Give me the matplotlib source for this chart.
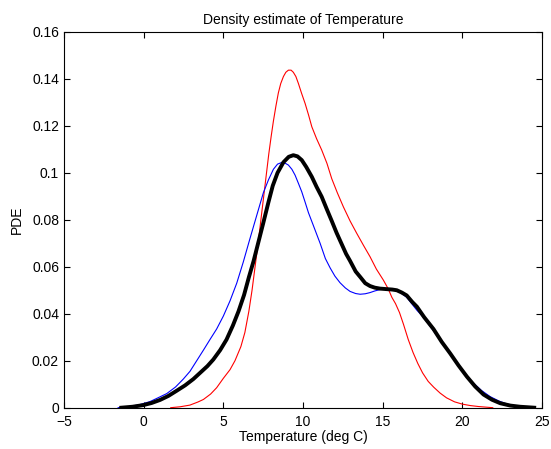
import matplotlib
matplotlib.use('Agg')
import matplotlib.pyplot as plt

# values
red_x = [1.7, 2.3, 2.9, 3.4, 3.75, 4.2, 4.58, 5.0, 5.42, 5.73,
         6.1, 6.35, 6.6, 6.8, 7.0, 7.2, 7.4, 7.55, 7.7, 7.85,
         8.0, 8.14, 8.3, 8.45, 8.6, 8.77, 8.92, 9.08, 9.25, 9.39,
         9.55, 9.71, 9.9, 10.13, 10.35, 10.55, 10.85, 11.17, 11.5, 11.8,
         12.15, 12.53, 12.95, 13.37, 13.8, 14.2, 14.6, 15.04, 15.35, 15.57,
         15.8, 16.05, 16.3, 16.6, 16.9, 17.2, 17.5, 17.85, 18.2, 18.6,
         19.0, 19.5, 20.0, 20.5, 21.0, 21.9]
red_y = [0.0, 0.0004, 0.0011, 0.0024, 0.0035, 0.0058, 0.0085, 0.0125, 0.0162, 0.020,
         0.026, 0.032, 0.041, 0.050, 0.0605, 0.071, 0.0825, 0.091, 0.0995, 0.108,
         0.1155, 0.122, 0.1285, 0.134, 0.138, 0.141, 0.1428, 0.1437, 0.1437, 0.1428,
         0.141, 0.138, 0.134, 0.1295, 0.1245, 0.1196, 0.1145, 0.1097, 0.104, 0.0975,
         0.0915, 0.0855, 0.0795, 0.0742, 0.069, 0.0643, 0.059, 0.0543, 0.0505, 0.047,
         0.0443, 0.0405, 0.0355, 0.029, 0.0235, 0.0188, 0.0148, 0.0112, 0.0087, 0.0062,
         0.0042, 0.0025, 0.0015, 0.0009, 0.0005, 0.0]

blue_x = [-1.6, -1.0, -0.3, 0.4, 0.9, 1.45, 2.0, 2.49, 2.91, 3.33,
          3.75, 4.16, 4.58, 5.0, 5.42, 5.84, 6.25, 6.67, 7.1, 7.51,
          7.83, 8.14, 8.4, 8.66, 8.9, 9.08, 9.3, 9.5, 9.71, 9.92,
          10.13, 10.34, 10.65, 11.07, 11.4, 11.7, 12.0, 12.32, 12.65, 12.95,
          13.3, 13.58, 13.9, 14.2, 14.5, 14.83, 15.2, 15.67, 16.1, 16.5,
          16.85, 17.14, 17.55, 18.1, 18.6, 19.1, 19.65, 20.2, 20.7, 21.2,
          21.74, 22.3, 22.79, 23.3, 23.8, 24.3]
blue_y = [0.0, 0.0004, 0.0012, 0.0026, 0.0042, 0.006, 0.0088, 0.0122, 0.0155, 0.020,
          0.0245, 0.029, 0.0335, 0.039, 0.0455, 0.053, 0.062, 0.072, 0.082, 0.0915,
          0.097, 0.1015, 0.1037, 0.1044, 0.1040, 0.1033, 0.1015, 0.099, 0.0955, 0.0919,
          0.0875, 0.083, 0.0775, 0.070, 0.0635, 0.0595, 0.056, 0.0532, 0.051, 0.0495,
          0.0486, 0.0483, 0.0485, 0.049, 0.0497, 0.0503, 0.0506, 0.0503, 0.049, 0.047,
          0.044, 0.0415, 0.0385, 0.0335, 0.0288, 0.024, 0.0189, 0.014, 0.0104, 0.0073,
          0.0047, 0.0028, 0.0016, 0.0008, 0.0004, 0.0]

black_x = [-1.4, -0.7, -0.02, 0.5, 1.03, 1.55, 2.07, 2.6, 3.12, 3.6,
           4.0, 4.37, 4.8, 5.2, 5.6, 5.95, 6.3, 6.6, 6.9, 7.2,
           7.5, 7.83, 8.1, 8.4, 8.77, 9.1, 9.39, 9.65, 9.92, 10.2,
           10.55, 10.85, 11.17, 11.49, 11.8, 12.1, 12.4, 12.7, 12.95, 13.3,
           13.58, 13.9, 14.2, 14.5, 14.83, 15.2, 15.6, 15.88, 16.2, 16.5,
           16.85, 17.14, 17.6, 18.18, 18.7, 19.23, 19.75, 20.28, 20.8, 21.32,
           21.85, 22.37, 23.0, 23.62, 24.5]
black_y = [0.0, 0.0004, 0.0011, 0.002, 0.0033, 0.005, 0.0072, 0.0095, 0.0122, 0.0152,
           0.0177, 0.0205, 0.0245, 0.029, 0.035, 0.041, 0.048, 0.0555, 0.0625, 0.0705,
           0.0785, 0.0875, 0.0945, 0.1000, 0.1045, 0.1068, 0.1075, 0.107, 0.1054, 0.1025,
           0.0983, 0.094, 0.0898, 0.0845, 0.0795, 0.0745, 0.0700, 0.0655, 0.0625, 0.058,
           0.0557, 0.053, 0.0518, 0.0511, 0.0507, 0.0505, 0.0503, 0.0500, 0.049, 0.0478,
           0.045, 0.043, 0.0385, 0.0335, 0.028, 0.0231, 0.018, 0.0132, 0.009, 0.0056,
           0.0034, 0.0019, 0.0009, 0.0004, 0.0]

plt.rcParams['font.family'] = ['Liberation Sans', 'DejaVu Sans']
plt.rcParams['font.size'] = 10

fig = plt.figure(figsize=(5.51, 4.49), dpi=100)
ax = fig.add_axes([0.116, 0.092, 0.868, 0.837])

ax.plot(red_x, red_y, color='red', lw=0.8)
ax.plot(blue_x, blue_y, color='blue', lw=0.8)
ax.plot(black_x, black_y, color='black', lw=2.8)

ax.set_xlim(-5, 25)
ax.set_ylim(0, 0.16)
ax.set_xticks(range(-5, 26, 5))
ax.set_xticklabels(['\u22125', '0', '5', '10', '15', '20', '25'])
ax.set_yticks([0, 0.02, 0.04, 0.06, 0.08, 0.1, 0.12, 0.14, 0.16])
ax.set_yticklabels(['0', '0.02', '0.04', '0.06', '0.08', '0.1', '0.12', '0.14', '0.16'])
ax.tick_params(direction='in', top=True, right=True, length=4, width=0.8, labelsize=10)
ax.tick_params(axis='x', pad=5)
for s in ax.spines.values():
    s.set_linewidth(0.8)

ax.set_title('Density estimate of Temperature', fontsize=10, pad=6)
ax.set_xlabel('Temperature (deg C)', fontsize=10, labelpad=1)
ax.set_ylabel('PDE', fontsize=10, labelpad=6)

fig.savefig('out.png', dpi=100)
